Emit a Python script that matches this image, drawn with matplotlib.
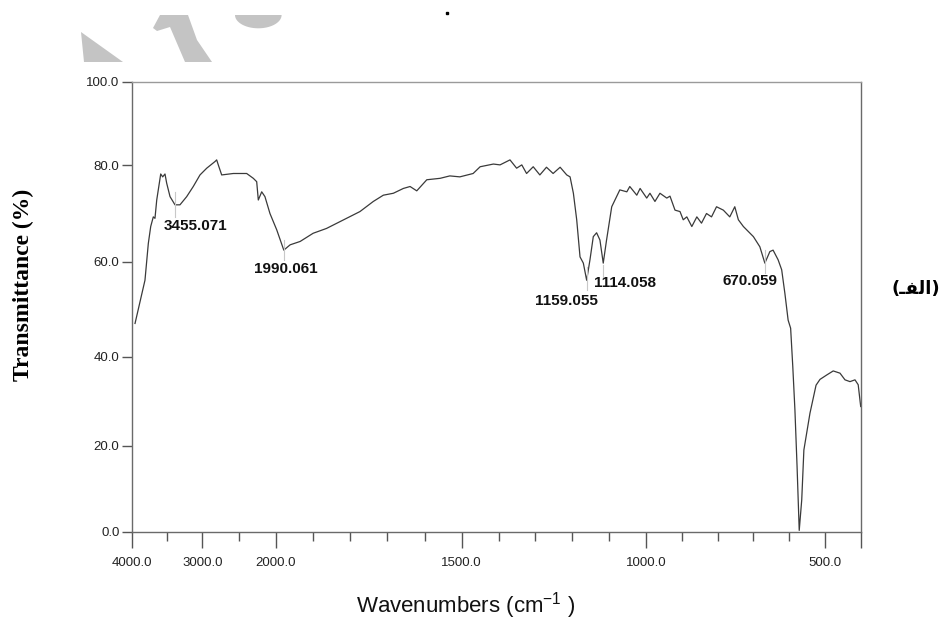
import numpy as np
import matplotlib.pyplot as plt
from matplotlib.patches import Polygon
from matplotlib.lines import Line2D
from matplotlib import font_manager

# FTIR spectrum (wavenumber in cm-1, transmittance in %)
wavenumber = [
    3961, 3890, 3819, 3771, 3737, 3700, 3676, 3651, 3594, 3566,
    3533, 3509, 3461, 3390, 3319, 3223, 3129, 3033, 2940, 2828,
    2805, 2783, 2737, 2579, 2398, 2308, 2262, 2240, 2194, 2150,
    2082, 1998, 1979, 1962, 1935, 1900, 1864, 1810, 1774, 1738,
    1711, 1684, 1657, 1639, 1621, 1594, 1558, 1532, 1505, 1469,
    1450, 1414, 1396, 1369, 1351, 1337, 1324, 1306, 1288, 1270,
    1252, 1233, 1215, 1206, 1197, 1188, 1179, 1170, 1161, 1152,
    1143, 1134, 1125, 1116, 1107, 1093, 1071, 1052, 1044, 1025,
    1016, 998, 989, 975, 961, 942, 933, 919, 905, 896,
    886, 872, 858, 845, 831, 817, 803, 784, 766, 752,
    742, 728, 700, 682, 668, 654, 645, 631, 621, 612,
    603, 596, 590, 584, 578, 572, 565, 559, 542, 525,
    514, 495, 477, 458, 444, 430, 416, 407, 400,
]
transmittance = [
    47.0, 51.6, 56.1, 63.8, 67.3, 69.3, 69.0, 72.8, 78.2, 77.6,
    78.2, 76.3, 73.5, 71.8, 71.8, 73.5, 75.6, 78.0, 79.4, 80.9,
    81.3, 80.1, 78.0, 78.3, 78.3, 77.3, 76.6, 72.8, 74.5, 73.5,
    70.0, 66.6, 62.4, 63.5, 64.2, 65.9, 66.9, 69.0, 70.4, 72.5,
    73.8, 74.2, 75.2, 75.6, 74.7, 77.0, 77.3, 77.8, 77.6, 78.3,
    79.7, 80.3, 80.1, 81.3, 79.4, 80.1, 78.3, 79.7, 78.0, 79.6,
    78.3, 79.6, 78.0, 77.6, 74.2, 68.7, 61.0, 59.7, 56.1, 60.4,
    65.2, 66.0, 64.5, 59.7, 64.5, 71.4, 74.9, 74.5, 75.6, 73.8,
    75.2, 73.2, 74.2, 72.5, 74.2, 73.2, 73.6, 70.7, 70.4, 68.7,
    69.3, 67.3, 69.3, 68.0, 70.0, 69.3, 71.4, 70.7, 69.3, 71.4,
    68.7, 67.3, 65.2, 63.1, 59.7, 62.1, 62.4, 60.4, 58.3, 53.3,
    47.7, 46.0, 37.8, 28.0, 15.1, 0.3, 7.4, 19.0, 27.3, 33.6,
    34.9, 35.9, 36.8, 36.3, 34.8, 34.4, 34.8, 33.7, 28.8,
]

# peak picks: label text, marker position, marker span
peak_labels = ['3455.071', '1990.061', '1159.055', '1114.058', '670.059']
peak_wn = [3390, 1978, 1161, 1116, 668]
peak_top = [74.5, 64.5, 58.9, 59.3, 62.4]
peak_bottom = [69.3, 60.3, 54.0, 56.8, 57.6]
label_wn = [3104, 1974, 1215, 1057, 710]
label_t = [67.4, 58.4, 51.7, 55.5, 56.0]

x_major = [4000, 3000, 2000, 1500, 1000, 500, 400]
x_major_labels = ['4000.0', '3000.0', '2000.0', '1500.0', '1000.0', '500.0', '']
x_minor = [3500, 2500, 1900, 1800, 1700, 1600, 1400, 1300, 1200, 1100,
           900, 800, 700, 600]
y_major = [0, 20, 40, 60, 80, 100]
y_major_labels = ['0.0', '20.0', '40.0', '60.0', '80.0', '100.0']

# the instrument axis is not linear: calibration of tick value -> offset
x_cal_val = [400, 500, 1000, 1500, 2000, 3000, 4000]
x_cal_pos = [0.0, 35.7, 214.7, 399.0, 584.7, 658.4, 728.4]
y_cal_val = [0, 20, 40, 60, 80, 100]
y_cal_pos = [0.0, 86.0, 175.0, 270.0, 366.4, 449.7]


def x_fwd(v):
    return np.interp(v, x_cal_val, x_cal_pos)


def x_inv(p):
    return np.interp(p, x_cal_pos, x_cal_val)


def y_fwd(v):
    return np.interp(v, y_cal_val, y_cal_pos)


def y_inv(p):
    return np.interp(p, y_cal_pos, y_cal_val)


plt.rcParams['mathtext.default'] = 'regular'
installed = {f.name for f in font_manager.fontManager.ttflist}
tick_font = 'Liberation Sans Narrow' if 'Liberation Sans Narrow' in installed else 'Liberation Sans'
tick_size = 11 if tick_font == 'Liberation Sans Narrow' else 9.5

W, H = 941, 621
fig = plt.figure(figsize=(W / 100, H / 100), dpi=100)
ax = fig.add_axes([132.3 / W, 1 - 531.7 / H, (860.7 - 132.3) / W, (531.7 - 82) / H])

ax.set_xscale('function', functions=(x_fwd, x_inv))
ax.set_yscale('function', functions=(y_fwd, y_inv))
ax.set_xlim(4000, 400)
ax.set_ylim(0, 100)

# spectrum
ax.plot(wavenumber, transmittance, color='#3a3a3a', lw=0.9)

# peak picks
for name, xw, t0, t1, lx, ly in zip(peak_labels, peak_wn, peak_top, peak_bottom,
                                    label_wn, label_t):
    ax.plot([xw, xw], [t0, t1], color='#c8c8c8', lw=0.8)
    ax.text(lx, ly, name, ha='center', va='center', fontsize=11,
            fontweight='bold', family='Liberation Sans', color='#111111')

# ticks
ax.set_xticks(x_major, labels=x_major_labels)
ax.set_xticks(x_minor, minor=True)
ax.set_yticks(y_major, labels=y_major_labels)
ax.tick_params(axis='x', which='major', direction='out', length=11.3, width=1.0,
               color='#555555', pad=7, labelsize=tick_size, labelcolor='#222222')
ax.tick_params(axis='x', which='minor', direction='out', length=6.5, width=1.0,
               color='#555555')
ax.tick_params(axis='y', which='major', direction='out', length=7.2, width=1.0,
               color='#555555', pad=2, labelsize=tick_size, labelcolor='#222222')
for lab in ax.get_xticklabels() + ax.get_yticklabels():
    lab.set_family(tick_font)

for side, sp in ax.spines.items():
    sp.set_color('#6a6a6a' if side in ('left', 'bottom', 'right') else '#9a9a9a')
    sp.set_linewidth(1.0)

# axis titles
fig.text(466 / W, 1 - 606 / H, 'Wavenumbers (cm$^{-1}$ )', ha='center', va='center',
         fontsize=16, family='Liberation Sans', color='#111111')
fig.text(23 / W, 1 - 285 / H, 'Transmittance (%)', rotation=90, ha='center',
         va='center', fontsize=17, fontweight='bold', family='Liberation Serif')
fig.text(916 / W, 1 - 289 / H, '(' + '\u0640\uFED4\uFEDF\uFE8D' + ')', ha='center',
         va='center', fontsize=13, fontweight='bold', family=['DejaVu Sans'])

# faint watermark fragments at the top left
def px(pts):
    return [(x / W, 1 - y / H) for x, y in pts]


wm = '#c4c4c4'
fig.add_artist(Polygon(px([(81, 32), (84, 62), (123, 62)]), closed=True,
                       facecolor=wm, edgecolor='none', transform=fig.transFigure))
fig.add_artist(Polygon(px([(153, 28), (160, 15), (188, 15), (197, 40), (212, 62),
                           (185, 62), (170, 27), (157, 31)]), closed=True,
                       facecolor=wm, edgecolor='none', transform=fig.transFigure))
ang = np.linspace(0, np.pi, 40)
half = list(zip(258.3 + 23.3 * np.cos(ang), 15 + 13.3 * np.sin(ang)))
fig.add_artist(Polygon(px(half), closed=True, facecolor=wm, edgecolor='none',
                       transform=fig.transFigure))
fig.add_artist(Line2D([447 / W], [1 - 13 / H], marker='s', ms=1.6, color='black',
                      transform=fig.transFigure))

fig.savefig('out.png', dpi=100)
